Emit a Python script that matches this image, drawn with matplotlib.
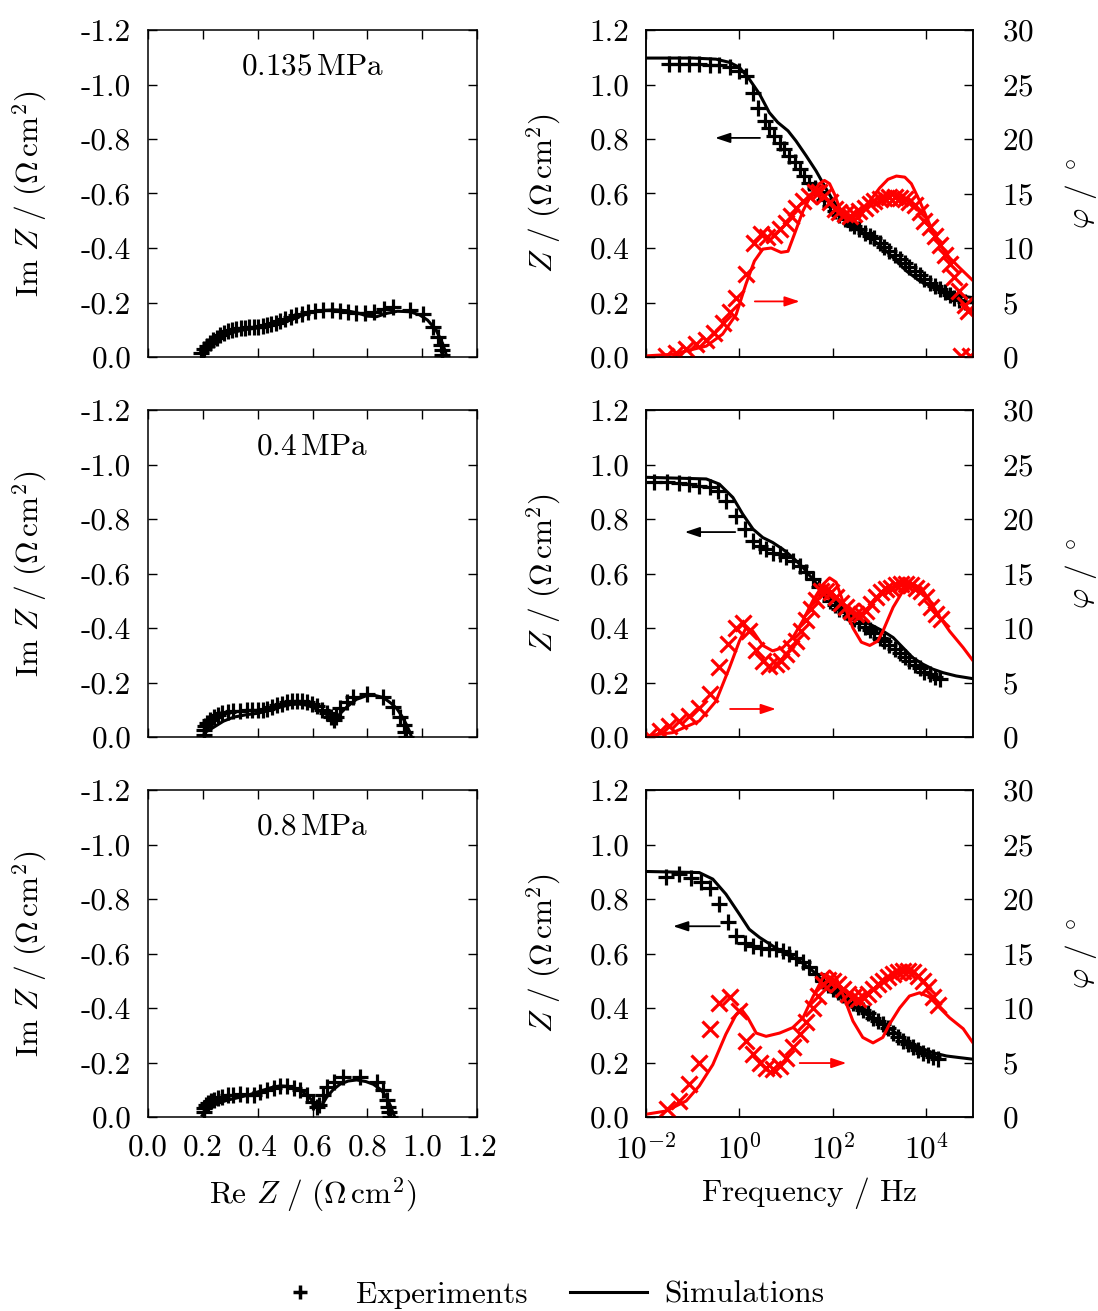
import numpy as np
import matplotlib
matplotlib.use("Agg")
import matplotlib.pyplot as plt
from matplotlib.lines import Line2D
from matplotlib.ticker import FuncFormatter, NullLocator

plt.rcParams["font.family"] = "serif"
plt.rcParams["font.serif"] = ["cmr10"]
plt.rcParams["mathtext.fontset"] = "cm"
plt.rcParams["axes.unicode_minus"] = False
plt.rcParams["axes.formatter.use_mathtext"] = True

# ---- data ----
pressures = ["0.135$\\,$MPa", "0.4$\\,$MPa", "0.8$\\,$MPa"]

# Nyquist, experiments (Re Z, -Im Z)
nyq_exp_re_135 = [0.200, 0.195, 0.205, 0.215, 0.225, 0.237, 0.250, 0.263, 0.277, 0.292, 0.307, 0.322, 0.338, 0.354,
                  0.370, 0.386, 0.402, 0.418, 0.434, 0.450, 0.466, 0.482, 0.500, 0.520, 0.540, 0.560, 0.585, 0.610,
                  0.640, 0.670, 0.700, 0.730, 0.760, 0.790, 0.825, 0.860, 0.895, 0.955, 1.004, 1.040, 1.058, 1.068,
                  1.072, 1.074, 1.072]
nyq_exp_im_135 = [-0.012, 0.015, 0.030, 0.042, 0.052, 0.062, 0.071, 0.080, 0.088, 0.094, 0.099, 0.103, 0.106, 0.108,
                  0.109, 0.110, 0.111, 0.113, 0.116, 0.120, 0.125, 0.131, 0.138, 0.146, 0.153, 0.159, 0.165, 0.169,
                  0.171, 0.171, 0.169, 0.165, 0.161, 0.160, 0.165, 0.175, 0.182, 0.172, 0.158, 0.110, 0.073, 0.045,
                  0.025, 0.008, -0.008]
nyq_exp_re_04 = [0.204, 0.204, 0.207, 0.215, 0.227, 0.240, 0.255, 0.270, 0.290, 0.310, 0.337, 0.360, 0.380, 0.400,
                 0.418, 0.434, 0.452, 0.470, 0.490, 0.507, 0.525, 0.543, 0.562, 0.580, 0.598, 0.616, 0.634, 0.652,
                 0.668, 0.678, 0.685, 0.700, 0.725, 0.749, 0.798, 0.858, 0.895, 0.919, 0.932, 0.937, 0.940, 0.937]
nyq_exp_im_04 = [0.006, 0.025, 0.040, 0.052, 0.063, 0.073, 0.081, 0.087, 0.091, 0.094, 0.097, 0.098, 0.098, 0.098,
                 0.100, 0.104, 0.110, 0.116, 0.122, 0.127, 0.131, 0.133, 0.131, 0.127, 0.120, 0.112, 0.100, 0.088,
                 0.072, 0.062, 0.075, 0.105, 0.128, 0.145, 0.158, 0.145, 0.110, 0.073, 0.045, 0.020, 0.000, -0.018]
nyq_exp_re_08 = [0.204, 0.206, 0.210, 0.220, 0.230, 0.240, 0.255, 0.270, 0.290, 0.310, 0.337, 0.360, 0.385, 0.410,
                 0.434, 0.458, 0.482, 0.507, 0.531, 0.555, 0.580, 0.600, 0.616, 0.625, 0.640, 0.652, 0.680, 0.713,
                 0.773, 0.834, 0.858, 0.870, 0.876, 0.879, 0.882, 0.882]
nyq_exp_im_08 = [0.018, 0.032, 0.043, 0.052, 0.058, 0.063, 0.070, 0.075, 0.079, 0.082, 0.083, 0.082, 0.082, 0.090,
                 0.099, 0.107, 0.112, 0.112, 0.108, 0.098, 0.079, 0.056, 0.035, 0.045, 0.079, 0.110, 0.130, 0.146,
                 0.146, 0.128, 0.098, 0.061, 0.035, 0.018, 0.000, -0.010]

# Nyquist, simulations (Re Z, -Im Z)
nyq_sim_re_135 = [0.190, 0.200, 0.220, 0.240, 0.270, 0.313, 0.350, 0.400, 0.440, 0.482, 0.531, 0.580, 0.630, 0.680,
                  0.725, 0.770, 0.800, 0.834, 0.870, 0.910, 0.955, 0.990, 1.020, 1.050, 1.070, 1.083, 1.090]
nyq_sim_im_135 = [0.015, 0.030, 0.045, 0.057, 0.075, 0.091, 0.100, 0.107, 0.112, 0.122, 0.140, 0.160, 0.170, 0.173,
                  0.170, 0.160, 0.150, 0.148, 0.160, 0.168, 0.166, 0.155, 0.135, 0.100, 0.060, 0.025, 0.000]
nyq_sim_re_04 = [0.198, 0.210, 0.240, 0.275, 0.313, 0.360, 0.400, 0.440, 0.482, 0.520, 0.550, 0.580, 0.604, 0.630,
                 0.652, 0.670, 0.683, 0.700, 0.725, 0.760, 0.798, 0.830, 0.858, 0.885, 0.907, 0.925, 0.943, 0.955,
                 0.961]
nyq_sim_im_04 = [0.000, 0.018, 0.036, 0.058, 0.073, 0.082, 0.087, 0.097, 0.110, 0.119, 0.121, 0.117, 0.108, 0.094,
                 0.082, 0.068, 0.062, 0.085, 0.110, 0.138, 0.152, 0.152, 0.145, 0.125, 0.105, 0.078, 0.045, 0.018,
                 0.000]
nyq_sim_re_08 = [0.198, 0.220, 0.252, 0.290, 0.337, 0.370, 0.410, 0.450, 0.482, 0.515, 0.543, 0.570, 0.592, 0.610,
                 0.622, 0.635, 0.652, 0.675, 0.700, 0.730, 0.761, 0.795, 0.822, 0.850, 0.870, 0.885, 0.895, 0.900]
nyq_sim_im_08 = [0.006, 0.030, 0.049, 0.062, 0.073, 0.082, 0.095, 0.108, 0.114, 0.112, 0.103, 0.088, 0.068, 0.045,
                 0.030, 0.045, 0.073, 0.100, 0.120, 0.132, 0.136, 0.130, 0.120, 0.100, 0.073, 0.040, 0.012, 0.000]

# Bode, experiments: log10(f), |Z|
bode_exp_lfz_135 = [-1.50, -1.29, -1.07, -0.86, -0.64, -0.43, -0.21, 0.00, 0.14, 0.29, 0.39, 0.54, 0.64, 0.75, 0.86,
                    0.96, 1.07, 1.18, 1.29, 1.39, 1.50, 1.61, 1.71, 1.82, 1.93, 2.04, 2.14, 2.25, 2.36, 2.46, 2.57,
                    2.68, 2.79, 2.89, 3.00, 3.10, 3.21, 3.32, 3.43, 3.54, 3.64, 3.75, 3.86, 3.96, 4.07, 4.18, 4.29,
                    4.39, 4.50, 4.60, 4.71, 4.82]
bode_exp_z_135 = [1.075, 1.075, 1.075, 1.075, 1.073, 1.071, 1.065, 1.050, 1.030, 0.970, 0.915, 0.867, 0.842, 0.812,
                  0.787, 0.763, 0.738, 0.714, 0.689, 0.665, 0.640, 0.622, 0.604, 0.575, 0.555, 0.535, 0.520, 0.505,
                  0.490, 0.480, 0.470, 0.455, 0.445, 0.435, 0.420, 0.405, 0.390, 0.375, 0.360, 0.345, 0.330, 0.315,
                  0.300, 0.285, 0.272, 0.260, 0.248, 0.238, 0.228, 0.218, 0.210, 0.203]
bode_exp_lfz_04 = [-1.82, -1.54, -1.29, -1.07, -0.86, -0.64, -0.46, -0.29, -0.07, 0.11, 0.29, 0.43, 0.57, 0.71, 0.86,
                   1.00, 1.14, 1.29, 1.43, 1.57, 1.71, 1.82, 1.93, 2.04, 2.14, 2.25, 2.36, 2.46, 2.57, 2.68, 2.79,
                   2.89, 3.00, 3.10, 3.21, 3.32, 3.43, 3.54, 3.64, 3.75, 3.86, 3.96, 4.07, 4.18, 4.29]
bode_exp_z_04 = [0.934, 0.934, 0.931, 0.928, 0.922, 0.916, 0.904, 0.867, 0.812, 0.763, 0.720, 0.702, 0.689, 0.677,
                 0.671, 0.659, 0.646, 0.628, 0.604, 0.579, 0.549, 0.525, 0.500, 0.485, 0.470, 0.457, 0.445, 0.432,
                 0.418, 0.405, 0.392, 0.380, 0.365, 0.352, 0.337, 0.322, 0.308, 0.292, 0.278, 0.265, 0.252, 0.240,
                 0.230, 0.220, 0.212]
bode_exp_lfz_08 = [-1.57, -1.29, -1.04, -0.82, -0.64, -0.43, -0.25, -0.07, 0.11, 0.29, 0.46, 0.64, 0.79, 0.93, 1.07,
                   1.21, 1.36, 1.50, 1.64, 1.79, 1.89, 2.00, 2.11, 2.21, 2.32, 2.43, 2.54, 2.64, 2.75, 2.86, 2.96,
                   3.07, 3.18, 3.29, 3.39, 3.50, 3.61, 3.71, 3.82, 3.93, 4.04, 4.14, 4.25]
bode_exp_z_08 = [0.879, 0.891, 0.876, 0.861, 0.842, 0.781, 0.714, 0.665, 0.640, 0.628, 0.622, 0.616, 0.616, 0.610,
                 0.598, 0.585, 0.567, 0.549, 0.524, 0.500, 0.485, 0.470, 0.458, 0.446, 0.432, 0.418, 0.404, 0.393,
                 0.380, 0.365, 0.352, 0.340, 0.325, 0.310, 0.295, 0.280, 0.267, 0.256, 0.245, 0.236, 0.228, 0.220,
                 0.212]

# Bode, experiments: log10(f), phase in degrees
bode_exp_lfp_135 = [-1.57, -1.36, -1.14, -0.93, -0.71, -0.54, -0.36, -0.21, -0.07, 0.14, 0.32, 0.46, 0.60, 0.75,
                    0.86, 1.00, 1.10, 1.21, 1.36, 1.50, 1.61, 1.71, 1.82, 1.93, 2.04, 2.14, 2.25, 2.36, 2.46, 2.57,
                    2.68, 2.79, 2.89, 3.00, 3.10, 3.21, 3.32, 3.43, 3.54, 3.64, 3.75, 3.86, 3.96, 4.07, 4.18, 4.29,
                    4.39, 4.50, 4.60, 4.71, 4.82, 4.89, 4.75, 4.93]
bode_exp_p_135 = [0.1, 0.4, 0.7, 1.15, 1.6, 2.2, 3.15, 4.1, 5.45, 7.6, 10.5, 11.3, 11.0, 11.2, 11.7, 12.3, 12.9,
                  13.7, 14.3, 14.8, 15.1, 15.1, 14.8, 14.2, 13.6, 13.3, 13.1, 12.9, 13.1, 13.4, 13.7, 14.0, 14.3,
                  14.5, 14.6, 14.7, 14.7, 14.6, 14.5, 14.2, 13.9, 13.3, 12.5, 11.9, 11.1, 10.3, 9.4, 8.5, 7.3, 6.1,
                  4.8, 4.2, 0.1, 0.1]
bode_exp_lfp_04 = [-1.93, -1.71, -1.50, -1.29, -1.07, -0.86, -0.64, -0.43, -0.25, -0.07, 0.07, 0.21, 0.36, 0.50,
                   0.64, 0.79, 0.89, 1.00, 1.11, 1.21, 1.32, 1.43, 1.54, 1.64, 1.75, 1.86, 1.96, 2.07, 2.18, 2.29,
                   2.39, 2.50, 2.61, 2.71, 2.82, 2.93, 3.04, 3.14, 3.25, 3.36, 3.46, 3.57, 3.68, 3.79, 3.89, 4.00,
                   4.11, 4.21, 4.32]
bode_exp_p_04 = [0.1, 0.55, 1.0, 1.47, 1.93, 2.7, 3.9, 6.4, 8.5, 10.0, 10.5, 9.7, 8.0, 7.0, 6.5, 6.7, 7.0, 7.6, 8.2,
                 8.8, 9.7, 10.7, 11.7, 12.6, 13.4, 13.4, 13.3, 12.8, 12.3, 11.9, 11.6, 11.3, 11.3, 11.6, 12.2, 12.8,
                 13.3, 13.6, 13.7, 13.9, 14.0, 14.0, 13.9, 13.7, 13.4, 12.8, 11.9, 11.3, 10.8]
bode_exp_lfp_08 = [-1.54, -1.29, -1.07, -0.86, -0.64, -0.43, -0.21, 0.00, 0.14, 0.29, 0.43, 0.57, 0.71, 0.86, 1.00,
                   1.14, 1.29, 1.43, 1.57, 1.68, 1.79, 1.89, 2.00, 2.11, 2.21, 2.32, 2.43, 2.54, 2.64, 2.75, 2.86,
                   2.96, 3.07, 3.18, 3.29, 3.39, 3.50, 3.61, 3.71, 3.82, 3.93, 4.04, 4.14, 4.25]
bode_exp_p_08 = [0.7, 1.47, 3.0, 5.0, 8.05, 10.5, 11.0, 9.7, 7.0, 5.75, 5.0, 4.5, 4.4, 4.7, 5.45, 6.4, 7.6, 8.7, 10.0,
                 11.1, 12.2, 12.6, 12.5, 12.2, 11.7, 11.3, 11.0, 10.8, 11.0, 11.3, 11.7, 12.2, 12.5, 12.8, 13.1, 13.3,
                 13.4, 13.4, 13.3, 12.9, 12.5, 11.9, 11.0, 10.3]

# Bode, simulations: log10(f), |Z|
bode_sim_lfz_135 = [-2.0, -1.0, -0.5, -0.21, 0.0, 0.21, 0.43, 0.64, 0.82, 1.04, 1.21, 1.43, 1.64, 1.86, 2.07, 2.29,
                    2.5, 2.71, 2.93, 3.14, 3.36, 3.57, 3.86, 4.14, 4.43, 4.71, 5.0]
bode_sim_z_135 = [1.097, 1.097, 1.093, 1.081, 1.063, 1.020, 0.965, 0.897, 0.861, 0.830, 0.793, 0.738, 0.683, 0.616,
                  0.555, 0.506, 0.469, 0.451, 0.420, 0.389, 0.353, 0.316, 0.279, 0.255, 0.236, 0.224, 0.218]
bode_sim_lfz_04 = [-2.0, -0.71, -0.43, -0.14, 0.07, 0.29, 0.5, 0.71, 0.93, 1.14, 1.36, 1.57, 1.79, 2.0, 2.21, 2.43,
                   2.64, 2.86, 3.07, 3.29, 3.5, 3.71, 3.93, 4.14, 4.36, 4.64, 5.0]
bode_sim_z_04 = [0.953, 0.947, 0.928, 0.879, 0.818, 0.763, 0.732, 0.714, 0.689, 0.659, 0.622, 0.579, 0.536, 0.500,
                 0.475, 0.451, 0.426, 0.408, 0.389, 0.365, 0.328, 0.291, 0.267, 0.249, 0.236, 0.224, 0.214]
bode_sim_lfz_08 = [-2.0, -0.86, -0.57, -0.29, 0.0, 0.21, 0.43, 0.71, 1.0, 1.29, 1.57, 1.86, 2.14, 2.43, 2.71, 3.0,
                   3.29, 3.57, 3.86, 4.14, 4.43, 4.71, 5.0]
bode_sim_z_08 = [0.901, 0.897, 0.873, 0.818, 0.744, 0.689, 0.659, 0.628, 0.598, 0.573, 0.536, 0.487, 0.444, 0.408,
                 0.377, 0.353, 0.316, 0.279, 0.255, 0.236, 0.224, 0.218, 0.212]

# Bode, simulations: log10(f), phase in degrees
bode_sim_lfp_135 = [-2.0, -1.43, -0.71, -0.36, -0.07, 0.14, 0.32, 0.5, 0.68, 0.89, 1.04, 1.18, 1.36, 1.54, 1.71,
                    1.82, 1.93, 2.04, 2.14, 2.29, 2.43, 2.57, 2.79, 3.0, 3.18, 3.36, 3.54, 3.68, 3.86, 4.07, 4.29,
                    4.5, 4.71, 5.0]
bode_sim_p_135 = [0.1, 0.25, 1.0, 2.1, 3.9, 6.7, 8.8, 9.9, 10.0, 9.6, 9.7, 11.3, 13.4, 14.9, 15.9, 16.2, 15.9, 14.9,
                  13.7, 12.8, 12.5, 12.8, 14.3, 15.5, 16.3, 16.6, 16.5, 15.9, 14.3, 12.2, 10.3, 9.1, 8.2, 7.0]
bode_sim_lfp_04 = [-2.0, -1.43, -0.86, -0.5, -0.21, 0.0, 0.14, 0.29, 0.5, 0.71, 0.93, 1.14, 1.36, 1.57, 1.79, 1.93,
                   2.07, 2.21, 2.43, 2.61, 2.79, 2.96, 3.07, 3.29, 3.5, 3.71, 3.89, 4.07, 4.29, 4.5, 4.79, 5.0]
bode_sim_p_04 = [0.1, 0.4, 1.47, 3.3, 6.4, 8.8, 10.0, 9.7, 8.4, 7.9, 8.2, 9.1, 10.7, 12.5, 14.0, 14.6, 14.2, 12.5,
                 10.0, 8.7, 8.4, 8.8, 9.7, 11.9, 13.4, 14.0, 13.7, 12.5, 11.0, 9.7, 8.2, 7.0]
bode_sim_lfp_08 = [-2.0, -1.57, -1.14, -0.86, -0.57, -0.29, -0.07, 0.04, 0.18, 0.36, 0.57, 0.86, 1.14, 1.36, 1.57,
                   1.79, 1.93, 2.07, 2.21, 2.43, 2.64, 2.86, 3.07, 3.21, 3.43, 3.64, 3.86, 4.07, 4.29, 4.5, 4.79, 5.0]
bode_sim_p_08 = [0.25, 0.55, 1.47, 2.85, 4.8, 7.6, 9.4, 9.9, 9.1, 7.7, 7.4, 7.7, 8.2, 9.1, 11.0, 12.8, 13.4, 12.8,
                 11.3, 8.8, 7.3, 6.8, 7.3, 8.5, 10.0, 11.1, 11.4, 11.0, 10.0, 9.1, 8.1, 6.8]

# arrows (log10 f start, end, value) for |Z| and phase
arrow_z = [(0.44, -0.52, 0.804), (-0.09, -1.17, 0.752), (-0.42, -1.42, 0.70)]
arrow_p = [(0.33, 1.29, 5.1), (-0.20, 0.78, 2.57), (1.29, 2.29, 4.95)]

rows = [
    (nyq_exp_re_135, nyq_exp_im_135, nyq_sim_re_135, nyq_sim_im_135,
     bode_exp_lfz_135, bode_exp_z_135, bode_exp_lfp_135, bode_exp_p_135,
     bode_sim_lfz_135, bode_sim_z_135, bode_sim_lfp_135, bode_sim_p_135),
    (nyq_exp_re_04, nyq_exp_im_04, nyq_sim_re_04, nyq_sim_im_04,
     bode_exp_lfz_04, bode_exp_z_04, bode_exp_lfp_04, bode_exp_p_04,
     bode_sim_lfz_04, bode_sim_z_04, bode_sim_lfp_04, bode_sim_p_04),
    (nyq_exp_re_08, nyq_exp_im_08, nyq_sim_re_08, nyq_sim_im_08,
     bode_exp_lfz_08, bode_exp_z_08, bode_exp_lfp_08, bode_exp_p_08,
     bode_sim_lfz_08, bode_sim_z_08, bode_sim_lfp_08, bode_sim_p_08),
]

FS = 22.5
MS = 11.5
MEW = 2.3
LW = 2.2
ohm = r"$(\Omega\,\mathrm{cm}^2)$"

fig = plt.figure(figsize=(10.98, 13.11), dpi=100)
W, H = 1098, 1311
tops = [30, 410, 790]


def style(ax):
    ax.tick_params(direction="in", length=6.5, width=1.0, labelsize=FS, pad=12)
    for s in ax.spines.values():
        s.set_linewidth(1.1)


for i, r in enumerate(rows):
    (nre, nim, sre, sim_, lfz, z, lfp, p, slfz, sz, slfp, sp) = r
    bottom = 1 - (tops[i] + 327) / H
    last = i == 2

    # Nyquist
    ax = fig.add_axes([148 / W, bottom, 329 / W, 327 / H])
    ax.plot(nre, -np.array(nim), "k+", ms=MS, mew=MEW, ls="none")
    ax.plot(sre, -np.array(sim_), "k-", lw=LW)
    ax.set_xlim(0, 1.2)
    ax.set_ylim(0.0, -1.2)
    ax.set_xticks(np.arange(0, 1.21, 0.2))
    ax.set_yticks(np.arange(0, -1.21, -0.2))
    ax.yaxis.set_major_formatter(FuncFormatter(lambda v, _: f"{v:.1f}".replace("-0.0", "0.0")))
    ax.xaxis.set_major_formatter(FuncFormatter(lambda v, _: f"{v:.1f}"))
    style(ax)
    ax.tick_params(top=True, right=True, labelbottom=last)
    ax.set_ylabel(r"$\mathrm{Im}\ Z\ /\ $" + ohm, fontsize=FS)
    ax.yaxis.set_label_coords(-0.300, 0.5)
    ax.text(0.4985, 0.887, pressures[i], transform=ax.transAxes, ha="center", va="center", fontsize=FS)
    if last:
        ax.set_xlabel(r"Re $Z\ /\ $" + ohm, fontsize=FS)
        ax.xaxis.set_label_coords(0.5, -0.177)

    # Bode
    bx = fig.add_axes([646 / W, bottom, 327 / W, 327 / H])
    bx.plot(10 ** np.array(lfz), z, "k+", ms=MS, mew=MEW, ls="none")
    bx.plot(10 ** np.array(slfz), sz, "k-", lw=LW)
    bx.set_xscale("log")
    bx.set_xlim(1e-2, 1e5)
    bx.set_ylim(0, 1.2)
    bx.set_xticks([1e-2, 1e0, 1e2, 1e4])
    bx.set_xticklabels([r"$10^{-2}$", r"$10^{0}$", r"$10^{2}$", r"$10^{4}$"])
    bx.xaxis.set_minor_locator(NullLocator())
    bx.set_yticks(np.arange(0, 1.21, 0.2))
    bx.yaxis.set_major_formatter(FuncFormatter(lambda v, _: f"{v:.1f}"))
    style(bx)
    bx.tick_params(top=True, right=False, labelbottom=last)
    bx.set_ylabel(r"$Z\ /\ $" + ohm, fontsize=FS)
    bx.yaxis.set_label_coords(-0.255, 0.5)
    x0, x1, yv = arrow_z[i]
    bx.annotate("", xy=(10 ** x1, yv), xytext=(10 ** x0, yv),
                arrowprops=dict(arrowstyle="-|>,head_length=0.9,head_width=0.3", color="k", lw=1.3,
                                shrinkA=0, shrinkB=0))
    if last:
        bx.set_xlabel(r"Frequency $/$ Hz", fontsize=FS)
        bx.xaxis.set_label_coords(0.5, -0.177)

    px = bx.twinx()
    px.plot(10 ** np.array(lfp), p, "x", color="red", ms=MS, mew=MEW, ls="none")
    px.plot(10 ** np.array(slfp), sp, "-", color="red", lw=LW)
    px.set_xlim(1e-2, 1e5)
    px.set_ylim(0, 30)
    px.set_yticks(np.arange(0, 31, 5))
    style(px)
    px.tick_params(axis="y", pad=21)
    for lab in px.get_yticklabels():
        lab.set_horizontalalignment("left")
    px.set_ylabel(r"$\varphi\ /\ ^\circ$", fontsize=FS)
    px.yaxis.set_label_coords(1.275, 0.5)
    x0, x1, yv = arrow_p[i]
    px.annotate("", xy=(10 ** x1, yv), xytext=(10 ** x0, yv),
                arrowprops=dict(arrowstyle="-|>,head_length=0.9,head_width=0.3", color="red", lw=1.3,
                                shrinkA=0, shrinkB=0))

handles = [Line2D([], [], color="k", marker="+", ls="none", ms=10, mew=2.5),
           Line2D([], [], color="k", lw=LW)]
fig.legend(handles, ["Experiments", "Simulations"], loc="center", bbox_to_anchor=(543 / W, 1 - 1295 / H),
           ncol=2, frameon=False, fontsize=FS, handlelength=2.46, handletextpad=0.55, columnspacing=1.35)

fig.savefig("out.png", dpi=100)
